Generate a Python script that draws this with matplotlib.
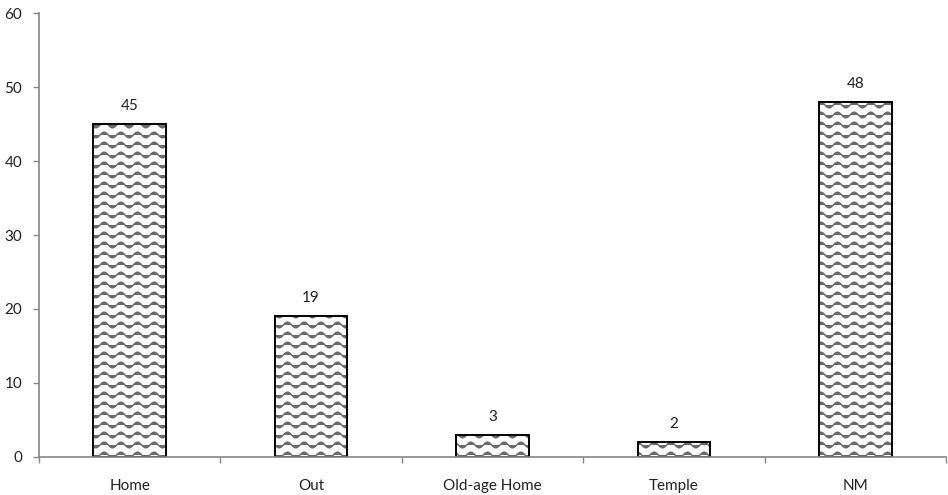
import numpy as np
import matplotlib
matplotlib.use("Agg")
import matplotlib.pyplot as plt
from matplotlib import hatch as mhatch
from matplotlib.path import Path

categories = ["Home", "Out", "Old-age Home", "Temple", "NM"]
values = [45, 19, 3, 2, 48]
yticks = [0, 10, 20, 30, 40, 50, 60]


class WaveHatch(mhatch.HatchPatternBase):
    """Wavy horizontal hatch (replaces '-' pattern)."""
    def __init__(self, hatch, density):
        self.rows = 10 if '-' in hatch else 0
        self.periods = 6
        self.npts = 6 * 16 + 1
        self.num_vertices = self.rows * self.npts

    def set_vertices_and_codes(self, vertices, codes):
        x = np.linspace(0, 1, self.npts)
        amp = 0.28 / self.rows
        k = 0
        for i in range(self.rows):
            y0 = (i + 0.5) / self.rows
            y = y0 + amp * np.sin(2 * np.pi * self.periods * x)
            vertices[k:k + self.npts, 0] = x
            vertices[k:k + self.npts, 1] = y
            codes[k] = Path.MOVETO
            codes[k + 1:k + self.npts] = Path.LINETO
            k += self.npts


mhatch._hatch_types = [WaveHatch]

plt.rcParams['font.family'] = ['Lato', 'DejaVu Sans']
plt.rcParams['hatch.linewidth'] = 1.1

fig = plt.figure(figsize=(9.48, 4.95), dpi=100)
ax = fig.add_axes([0.0411, 0.0768, 0.957, 0.8969])

x = np.arange(len(categories))
# hatched fill (hatch colour follows edgecolor)
ax.bar(x, values, width=0.4, facecolor='white', edgecolor='#6a6a6a',
       linewidth=0, hatch='-', zorder=2)
# black outline
ax.bar(x, values, width=0.4, facecolor='none', edgecolor='black',
       linewidth=1.4, zorder=2.5)

for xi, v in zip(x, values):
    ax.annotate(str(v), (xi, v), xytext=(0, 8), textcoords='offset points',
                ha='center', va='bottom', fontsize=11, color='#222222')

ax.set_xlim(-0.5, len(categories) - 0.5)
ax.set_ylim(0, 60)
ax.set_yticks(yticks)
ax.set_xticks(x)
ax.set_xticklabels(categories)
ax.set_xticks(np.arange(-0.5, len(categories)), minor=True)

for side in ['top', 'right']:
    ax.spines[side].set_visible(False)
for side in ['left', 'bottom']:
    ax.spines[side].set_color('#868686')
    ax.spines[side].set_linewidth(1.2)
ax.spines['bottom'].set_zorder(3)

ax.tick_params(axis='x', which='major', length=0, pad=16, labelsize=11,
               labelcolor='#222222')
ax.tick_params(axis='x', which='minor', length=4, color='#868686', width=1.0)
ax.tick_params(axis='y', length=4, color='#868686', width=1.0, pad=8,
               labelsize=11, labelcolor='#222222')

fig.savefig("out.png", dpi=100)
